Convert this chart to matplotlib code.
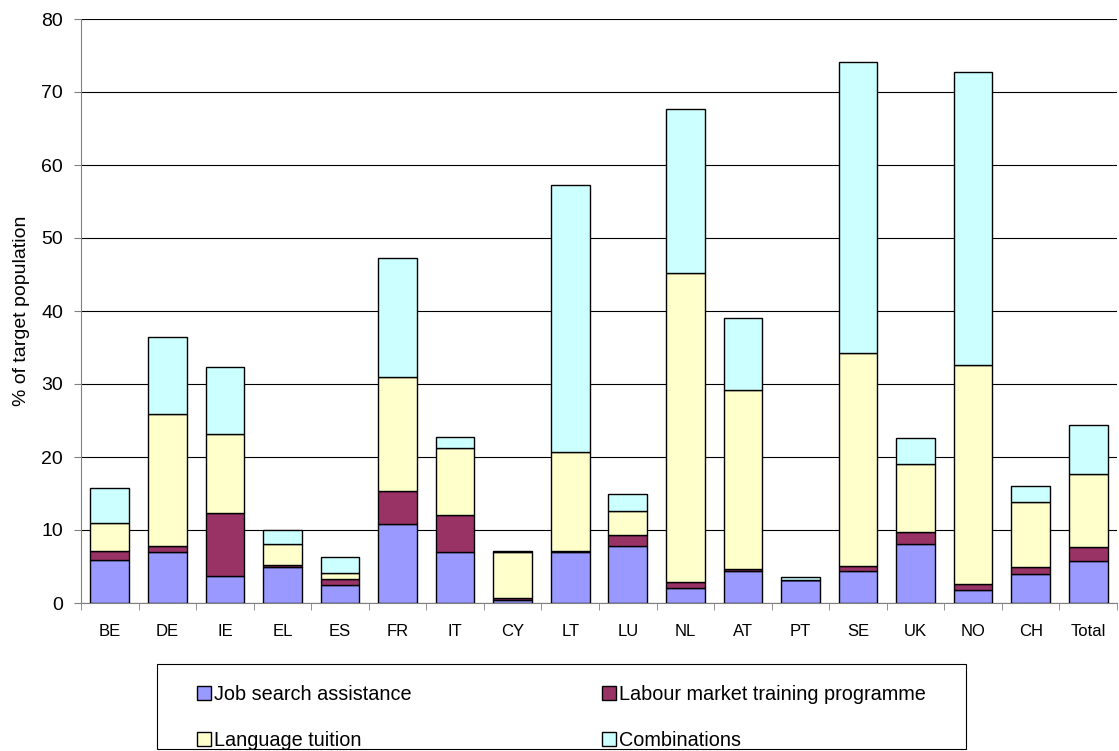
import numpy as np
import matplotlib
matplotlib.use("Agg")
import matplotlib.pyplot as plt
from matplotlib.patches import Rectangle

plt.rcParams['font.family'] = ['Liberation Sans', 'DejaVu Sans']

countries = ["BE", "DE", "IE", "EL", "ES", "FR", "IT", "CY", "LT", "LU",
             "NL", "AT", "PT", "SE", "UK", "NO", "CH", "Total"]

job_search = [5.9, 7.0, 3.65, 4.9, 2.4, 10.85, 7.05, 0.35, 7.05, 7.75,
              2.05, 4.45, 3.15, 4.45, 8.15, 1.75, 3.95, 5.75]
training = [1.2, 0.75, 8.65, 0.3, 0.9, 4.55, 5.0, 0.3, 0.1, 1.55,
            0.85, 0.25, 0.0, 0.65, 1.55, 0.85, 1.05, 1.9]
language = [3.9, 18.15, 10.85, 2.9, 0.8, 15.6, 9.25, 6.35, 13.55, 3.35,
            42.3, 24.5, 0.05, 29.15, 9.4, 29.95, 8.8, 10.05]
combinations = [4.7, 10.6, 9.15, 1.95, 2.2, 16.2, 1.5, 0.1, 36.6, 2.25,
                22.5, 9.8, 0.4, 39.8, 3.55, 40.15, 2.2, 6.75]

series = [
    ("Job search assistance", job_search, "#9999FF"),
    ("Labour market training programme", training, "#993366"),
    ("Language tuition", language, "#FFFFCC"),
    ("Combinations", combinations, "#CCFFFF"),
]

W, H = 1119, 751
fig = plt.figure(figsize=(W / 100, H / 100), dpi=100)
ax = fig.add_axes([81 / W, 1 - 603 / H, 1036 / W, 584 / H])

x = np.arange(len(countries))
bottom = np.zeros(len(countries))
bars = {}
for name, vals, col in series:
    vals = np.array(vals)
    bars[name] = ax.bar(x, vals, 0.67, bottom=bottom, color=col,
                        edgecolor="black", linewidth=1.0, label=name, zorder=3)
    bottom += vals

ax.set_xlim(-0.5, len(countries) - 0.5)
ax.set_ylim(0, 80)
ax.set_yticks(np.arange(0, 81, 10))
ax.yaxis.grid(True, color="black", linewidth=0.8, zorder=0)

ax.set_xticks(x)
ax.set_xticklabels(countries, fontsize=12)
ax.set_xticks(np.arange(-0.5, len(countries), 1), minor=True)
ax.tick_params(axis="x", which="major", length=0, pad=15)
ax.tick_params(axis="x", which="minor", length=5, color="#808080", direction="out")
ax.tick_params(axis="y", length=5, color="#808080", labelsize=14, pad=8)

for side in ["top", "right"]:
    ax.spines[side].set_visible(False)
ax.spines["left"].set_color("#808080")
ax.spines["bottom"].set_color("#808080")

ax.set_ylabel("% of target population", fontsize=14, labelpad=8)

# legend box drawn separately so the entries can sit inside it freely
fig.patches.append(Rectangle((157 / W, 2 / H), 809 / W, 85 / H,
                             transform=fig.transFigure, fill=False,
                             edgecolor="black", linewidth=0.8))

handles = [bars["Job search assistance"], bars["Language tuition"],
           bars["Labour market training programme"], bars["Combinations"]]
labels = ["Job search assistance", "Language tuition",
          "Labour market training programme", "Combinations"]
leg = fig.legend(handles, labels, ncol=2, loc="upper left",
                 bbox_to_anchor=(197 / W, 1 - 685 / H),
                 fontsize=14.3, frameon=False, handlelength=0.7,
                 handleheight=0.7, handletextpad=0.15, labelspacing=1.35,
                 columnspacing=9.6, borderaxespad=0, borderpad=0)

fig.savefig("out.png", dpi=100, facecolor="white")
